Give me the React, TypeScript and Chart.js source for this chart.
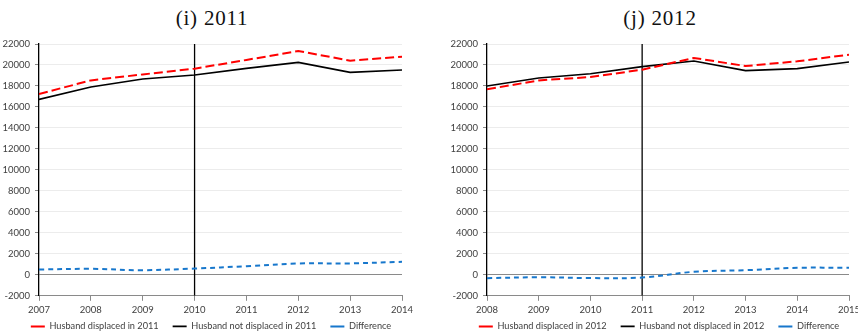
import React, { useEffect, useRef } from "react";
import { Chart, registerables } from "chart.js";

Chart.register(...registerables);

// ---------- data ----------
const years2011 = [2007, 2008, 2009, 2010, 2011, 2012, 2013, 2014];
const displaced2011 = [17240, 18530, 19100, 19650, 20480, 21330, 20410, 20790];
const notDisplaced2011 = [16720, 17900, 18670, 19050, 19680, 20250, 19300, 19520];
const difference2011 = [510, 570, 440, 600, 820, 1080, 1090, 1240];
const eventYear2011 = 2010;

const years2012 = [2008, 2009, 2010, 2011, 2012, 2013, 2014, 2015];
const displaced2012 = [17680, 18530, 18850, 19550, 20670, 19900, 20350, 20980];
const notDisplaced2012 = [18000, 18760, 19170, 19840, 20380, 19460, 19650, 20290];
const difference2012 = [-320, -230, -310, -260, 290, 440, 670, 670];
const eventYear2012 = 2011;

const yTickValues = [-2000, 0, 2000, 4000, 6000, 8000, 10000, 12000, 14000, 16000, 18000, 20000, 22000];

const labels2011 = ["Husband displaced in 2011", "Husband not displaced in 2011", "Difference"];
const labels2012 = ["Husband displaced in 2012", "Husband not displaced in 2012", "Difference"];

// ---------- styles ----------
const FONT = "Lato";
const TEXT = "#404040";
const BLUE = "#1777cc";

type PanelProps = {
  title: string;
  years: number[];
  displaced: number[];
  notDisplaced: number[];
  difference: number[];
  eventYear: number;
  labels: string[];
  boxLeft: number;
  boxWidth: number;
  padRight: number;
  rightSpace: number;
  titleCenter: number;
};

const BOX_TOP = 30;
const BOX_HEIGHT = 311;
const Y_AXIS_WIDTH = 39;

function Panel(p: PanelProps) {
  const ref = useRef<HTMLCanvasElement>(null);
  useEffect(() => {
    const yMin = yTickValues[0];
    const yMax = yTickValues[yTickValues.length - 1];
    const pts = (ys: number[]) => p.years.map((x, i) => ({ x, y: ys[i] }));
    const chart = new Chart(ref.current!, {
      type: "line",
      data: {
        datasets: [
          {
            label: p.labels[0],
            data: pts(p.displaced),
            borderColor: "#ff0000",
            backgroundColor: "#ff0000",
            borderWidth: 2,
            borderDash: [9, 4],
            pointRadius: 0,
            tension: 0,
            order: 1,
          },
          {
            label: p.labels[1],
            data: pts(p.notDisplaced),
            borderColor: "#000000",
            backgroundColor: "#000000",
            borderWidth: 1.6,
            pointRadius: 0,
            tension: 0,
            order: 2,
          },
          {
            label: p.labels[2],
            data: pts(p.difference),
            borderColor: BLUE,
            backgroundColor: BLUE,
            borderWidth: 2,
            borderDash: [5, 4],
            pointRadius: 0,
            tension: 0.35,
            order: 3,
          },
          {
            label: "event",
            data: [
              { x: p.eventYear, y: yMin },
              { x: p.eventYear, y: yMax },
            ],
            borderColor: "#000000",
            borderWidth: 1.3,
            pointRadius: 0,
            order: 4,
          },
        ],
      },
      options: {
        animation: false,
        responsive: false,
        devicePixelRatio: 1,
        layout: { padding: { top: 44 - BOX_TOP, left: 0, right: p.padRight, bottom: 0 } },
        plugins: {
          tooltip: { enabled: false },
          legend: {
            position: "bottom",
            labels: {
              usePointStyle: true,
              pointStyle: "line",
              pointStyleWidth: 14,
              padding: 14,
              color: TEXT,
              font: { family: FONT, size: 9.2 },
              filter: (item: any) => item.datasetIndex < 3,
            },
          },
        },
        scales: {
          x: {
            type: "linear",
            min: p.years[0],
            max: p.years[p.years.length - 1],
            afterBuildTicks: (scale: any) => {
              scale.ticks = p.years.map((v) => ({ value: v }));
            },
            afterFit: (scale: any) => {
              scale.height = 12;
              // let the year labels draw below the (shortened) axis box
              scale._computeLabelArea = () => undefined;
            },
            grid: { drawOnChartArea: false, tickLength: 5, tickColor: "#8a8a8a" },
            border: { color: "#8a8a8a", width: 1 },
            ticks: {
              padding: 3,
              color: TEXT,
              font: { family: FONT, size: 9.5 },
              maxRotation: 0,
              autoSkip: false,
              callback: (v: any) => String(v),
            },
          },
          y: {
            type: "linear",
            min: yMin,
            max: yMax,
            afterBuildTicks: (scale: any) => {
              scale.ticks = yTickValues.map((v) => ({ value: v }));
            },
            afterFit: (scale: any) => {
              scale.width = Y_AXIS_WIDTH;
            },
            grid: {
              color: (ctx: any) =>
                ctx.tick && (ctx.tick.value === 0 || ctx.tick.value === yMin) ? "#8a8a8a" : "#ececec",
              tickLength: 4,
              tickColor: "#8a8a8a",
            },
            border: { color: "#000000", width: 1.3 },
            ticks: {
              padding: 5,
              color: TEXT,
              font: { family: FONT, size: 9.5 },
              autoSkip: false,
              callback: (v: any) => String(v),
            },
          },
          spacer: {
            type: "linear",
            position: "right",
            display: true,
            afterFit: (scale: any) => {
              scale.width = p.rightSpace;
            },
            grid: { display: false, drawTicks: false },
            border: { display: false },
            ticks: { display: false },
          },
        },
      },
    } as any);
    return () => chart.destroy();
  }, []);

  return (
    <>
      <div
        style={{
          position: "absolute",
          left: p.titleCenter - 100,
          width: 200,
          top: 8,
          textAlign: "center",
          fontFamily: "'Liberation Serif', 'DejaVu Serif', serif",
          fontSize: 21,
          letterSpacing: "0.8px",
          lineHeight: "21px",
          color: "#111",
        }}
      >
        {p.title}
      </div>
      <div
        style={{
          position: "absolute",
          left: p.boxLeft,
          top: BOX_TOP,
          width: p.boxWidth,
          height: BOX_HEIGHT,
        }}
      >
        <canvas
          ref={ref}
          width={p.boxWidth}
          height={BOX_HEIGHT}
          style={{ width: p.boxWidth, height: BOX_HEIGHT, display: "block" }}
        />
      </div>
    </>
  );
}

export default function App() {
  return (
    <div
      style={{
        position: "absolute",
        left: 0,
        top: 0,
        width: 858,
        height: 335,
        overflow: "hidden",
        background: "#ffffff",
      }}
    >
      <Panel
        title="(i) 2011"
        years={years2011}
        displaced={displaced2011}
        notDisplaced={notDisplaced2011}
        difference={difference2011}
        eventYear={eventYear2011}
        labels={labels2011}
        boxLeft={0}
        boxWidth={430}
        padRight={8}
        rightSpace={20}
        titleCenter={212}
      />
      <Panel
        title="(j) 2012"
        years={years2012}
        displaced={displaced2012}
        notDisplaced={notDisplaced2012}
        difference={difference2012}
        eventYear={eventYear2012}
        labels={labels2012}
        boxLeft={448}
        boxWidth={422}
        padRight={0}
        rightSpace={21}
        titleCenter={660}
      />
    </div>
  );
}
